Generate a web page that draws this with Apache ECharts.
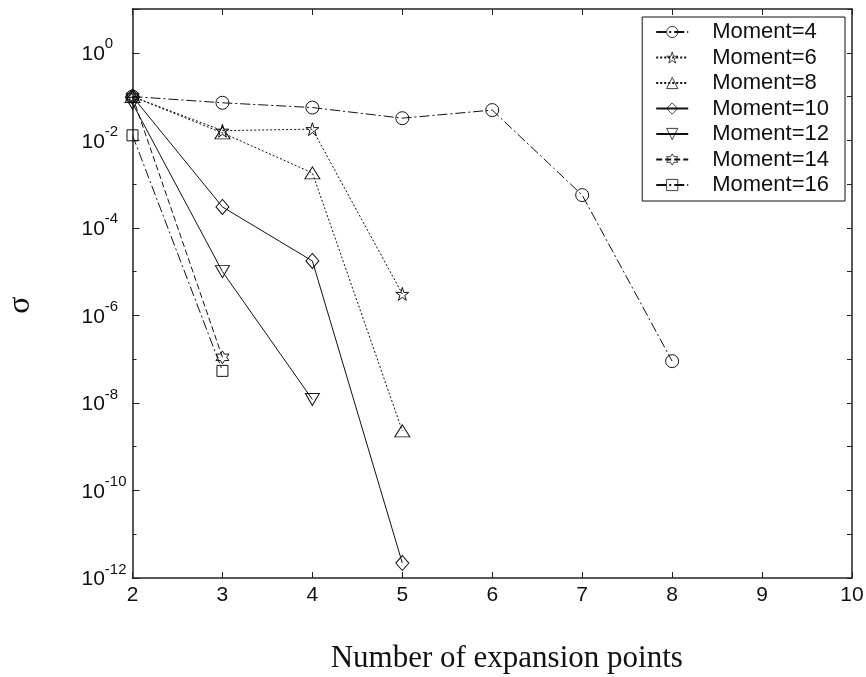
<!DOCTYPE html>
<html>
<head>
<meta charset="utf-8">
<script src="https://cdn.jsdelivr.net/npm/echarts@6/dist/echarts.min.js"></script>
<style>
html,body{margin:0;padding:0;background:#fff;}
#chart{width:866px;height:677px;}
</style>
</head>
<body>
<div id="chart"></div>
<script>
// ---- data ----
const xPoints = [2, 3, 4, 5, 6, 7, 8];
const xTicks = [2, 3, 4, 5, 6, 7, 8, 9, 10];
const seriesNames = ['Moment=4', 'Moment=6', 'Moment=8', 'Moment=10', 'Moment=12', 'Moment=14', 'Moment=16'];
const moment4  = [0.1, 0.072, 0.056, 0.032, 0.049, 5.6e-4, 9e-8];
const moment6  = [0.1, 0.0166, 0.018, 3.1e-6];
const moment8  = [0.1, 0.0148, 1.8e-3, 2.3e-9];
const moment10 = [0.1, 3.0e-4, 1.75e-5, 2.2e-12];
const moment12 = [0.07, 1.0e-5, 1.2e-8];
const moment14 = [0.1, 1.1e-7];
const moment16 = [0.013, 5.4e-8];
const yMin = 1e-12, yMax = 10;

const values = [moment4, moment6, moment8, moment10, moment12, moment14, moment16];

const STAR5 = 'path://M50,0 L61,35 L98,35 L68,57 L79,91 L50,70 L21,91 L32,57 L2,35 L39,35 Z';
const HEX6 = 'path://M50,0 L63,25 L93,25 L78,50 L93,75 L63,75 L50,100 L37,75 L7,75 L22,50 L7,25 L37,25 Z';
const styles = [
  {symbol: 'circle', size: 13, rotate: 0, dash: [10, 3, 2, 3]},
  {symbol: STAR5, size: 13, rotate: 0, dash: [2, 2]},
  {symbol: 'triangle', size: [15, 12], rotate: 0, dash: [2, 2]},
  {symbol: 'diamond', size: [13, 15], rotate: 0, dash: 'solid'},
  {symbol: 'triangle', size: [14, 12], rotate: 180, dash: 'solid'},
  {symbol: HEX6, size: 13, rotate: 0, dash: [6, 3]},
  {symbol: 'rect', size: 11, rotate: 0, dash: [10, 3, 2, 3]}
];

const INK = '#111';
const CLEAR = 'rgba(255,255,255,0)';
const SANS = 'Liberation Sans, Arial, sans-serif';
const SERIF = 'Liberation Serif, Times New Roman, serif';

const series = values.map((arr, i) => ({
  name: seriesNames[i],
  type: 'line',
  xAxisIndex: 0,
  yAxisIndex: 0,
  data: arr.map((v, j) => [xPoints[j], v]),
  symbol: styles[i].symbol,
  symbolSize: styles[i].size,
  symbolRotate: styles[i].rotate,
  showAllSymbol: true,
  lineStyle: {color: INK, width: 1, type: styles[i].dash},
  itemStyle: {color: CLEAR, borderColor: INK, borderWidth: 1},
  emphasis: {disabled: true},
  animation: false,
  z: 3
}));

const axisLineStyle = {color: '#222', width: 1.5};

function yLabel(v) {
  const e = Math.round(Math.log10(v));
  if (e % 2 !== 0 || e > 0) return '';
  return '{z|\u200b}{b|10}{s|' + e + '}';
}

const option = {
  animation: false,
  backgroundColor: '#fff',
  grid: {left: 132.5, right: 14, top: 9, bottom: 99, containLabel: false, outerBoundsMode: 'none'},
  legend: {
    data: seriesNames,
    orient: 'vertical',
    right: 21,
    top: 17,
    backgroundColor: '#fff',
    borderColor: INK,
    borderWidth: 1,
    padding: [4, 16, 5, 13],
    itemWidth: 32,
    itemHeight: 14,
    itemGap: 3.5,
    itemStyle: {color: CLEAR, borderColor: INK, borderWidth: 0.8},
    textStyle: {fontFamily: SANS, fontSize: 22, lineHeight: 22, color: INK, padding: [0, 0, 0, 19]}
  },
  xAxis: [
    {
      type: 'value', min: xTicks[0], max: xTicks[xTicks.length - 1], interval: 1, position: 'bottom',
      axisLine: {show: true, lineStyle: axisLineStyle},
      axisTick: {show: true, inside: true, length: 6, lineStyle: {color: '#222', width: 1}},
      axisLabel: {fontFamily: SANS, fontSize: 21, color: INK, margin: 7},
      splitLine: {show: false},
      name: 'Number of expansion points',
      nameLocation: 'middle',
      nameGap: 65,
      nameTextStyle: {fontFamily: SERIF, fontSize: 31, color: INK, padding: [0, 0, 0, 29]}
    },
    {
      type: 'value', min: xTicks[0], max: xTicks[xTicks.length - 1], interval: 1, position: 'top',
      axisLine: {show: true, lineStyle: axisLineStyle},
      axisTick: {show: true, inside: true, length: 6, lineStyle: {color: '#222', width: 1}},
      axisLabel: {show: false},
      splitLine: {show: false}
    }
  ],
  yAxis: [
    {
      type: 'log', logBase: 10, min: yMin, max: yMax, interval: 2, position: 'left',
      axisLine: {show: true, lineStyle: axisLineStyle},
      axisTick: {show: true, inside: true, length: 7, lineStyle: {color: '#222', width: 1}},
      axisLabel: {
        formatter: yLabel, align: 'left', margin: 51, padding: [0, 0, 4, 0], color: INK,
        rich: {
          z: {fontFamily: SANS, fontSize: 10, lineHeight: 28, width: 0, color: INK},
          b: {fontFamily: SANS, fontSize: 21, lineHeight: 21, verticalAlign: 'bottom', color: INK},
          s: {fontFamily: SANS, fontSize: 15, lineHeight: 15, verticalAlign: 'top', color: INK}
        }
      },
      splitLine: {show: false},
      name: 'σ',
      nameLocation: 'middle',
      nameRotate: 90,
      nameGap: 96,
      nameTextStyle: {fontFamily: SERIF, fontSize: 32, color: INK, padding: [0, 23, 0, 0]}
    },
    {
      type: 'log', logBase: 10, min: yMin, max: yMax, interval: 1, position: 'left',
      axisLine: {show: false},
      axisTick: {show: true, inside: true, length: 4, lineStyle: {color: '#222', width: 1}},
      axisLabel: {show: false},
      splitLine: {show: false}
    },
    {
      type: 'log', logBase: 10, min: yMin, max: yMax, interval: 1, position: 'right',
      axisLine: {show: true, lineStyle: axisLineStyle},
      axisTick: {show: true, inside: true, length: 5, lineStyle: {color: '#222', width: 1}},
      axisLabel: {show: false},
      splitLine: {show: false}
    }
  ],
  series: series
};

const chart = echarts.init(document.getElementById('chart'), null, {renderer: 'canvas'});
chart.setOption(option);
</script>
</body>
</html>
